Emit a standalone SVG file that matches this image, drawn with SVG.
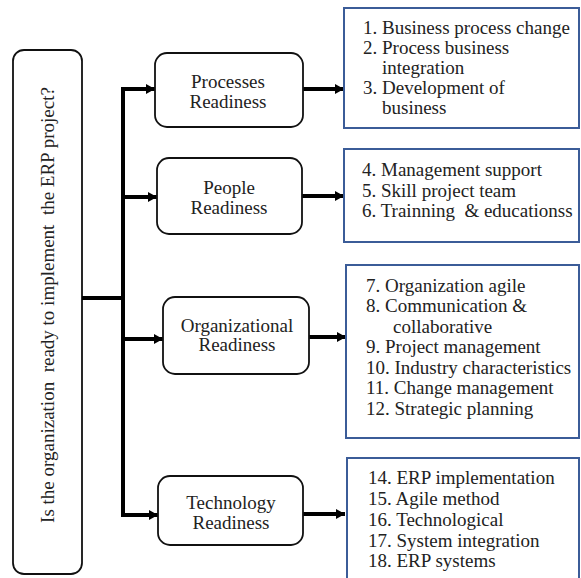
<svg xmlns="http://www.w3.org/2000/svg" width="581" height="578" viewBox="0 0 581 578">
<style>
text{font-family:"Liberation Serif","DejaVu Serif","Noto Serif",serif;font-size:19px;fill:#222}
.node{fill:#fff;stroke:#111;stroke-width:1.8}
.list{fill:#fff;stroke:#3b5c98;stroke-width:2}
.c{stroke:#000;stroke-width:4;fill:none}
.m{text-anchor:middle}
</style>
<defs>
<marker id="ah" markerUnits="userSpaceOnUse" markerWidth="10" markerHeight="12" refX="9" refY="6" orient="auto">
<path d="M0,1 L9,6 L0,11 Z" fill="#000"/>
</marker>
</defs>
<rect width="581" height="578" fill="#fff"/>
<g id="question">
<rect x="13" y="50" width="69" height="524" rx="11" class="node"/>
<text class="m" transform="translate(54,305) rotate(-90)" xml:space="preserve">Is the organization  ready to implement  the ERP project?</text>
</g>
<g id="connectors">
<path class="c" d="M82,298 H123"/>
<path class="c" d="M123,87 V517" stroke-width="5"/>
<path class="c" d="M121,89 H155" marker-end="url(#ah)"/>
<path class="c" d="M121,197 H157" marker-end="url(#ah)"/>
<path class="c" d="M121,339 H163" marker-end="url(#ah)"/>
<path class="c" d="M121,515 H158" marker-end="url(#ah)"/>
<path class="c" d="M303,89 H344" stroke-width="5" marker-end="url(#ah)"/>
<path class="c" d="M302,196 H344" stroke-width="5" marker-end="url(#ah)"/>
<path class="c" d="M309,337 H346" stroke-width="5" marker-end="url(#ah)"/>
<path class="c" d="M303,514 H345" stroke-width="5" marker-end="url(#ah)"/>
</g>
<g id="processes">
<rect x="155" y="53" width="148" height="74" rx="12" class="node"/>
<text class="m" x="228" y="88">Processes</text>
<text class="m" x="228" y="108">Readiness</text>
</g>
<g id="people">
<rect x="157" y="158" width="145" height="76" rx="12" class="node"/>
<text class="m" x="229" y="194">People</text>
<text class="m" x="229" y="214">Readiness</text>
</g>
<g id="organizational">
<rect x="163" y="297" width="146" height="77" rx="12" class="node"/>
<text class="m" x="237" y="332" font-size="15.5">Organizational</text>
<text class="m" x="237" y="351" font-size="15.5">Readiness</text>
</g>
<g id="technology">
<rect x="158" y="476" width="145" height="69" rx="12" class="node"/>
<text class="m" x="231" y="509">Technology</text>
<text class="m" x="231" y="529">Readiness</text>
</g>
<g id="list1">
<rect x="344" y="8" width="235" height="120" class="list"/>
<text x="363" y="34">1. Business process change</text>
<text x="363" y="54">2. Process business</text>
<text x="382" y="74">integration</text>
<text x="363" y="94">3. Development of</text>
<text x="382" y="114">business</text>
</g>
<g id="list2">
<rect x="344" y="149" width="235" height="93" class="list"/>
<text x="362" y="176">4. Management support</text>
<text x="362" y="197">5. Skill project team</text>
<text x="362" y="217" xml:space="preserve">6. Trainning  &amp; educationss</text>
</g>
<g id="list3">
<rect x="346" y="265" width="233" height="173" class="list"/>
<text x="366" y="292">7. Organization agile</text>
<text x="366" y="312">8. Communication &amp;</text>
<text x="393" y="333">collaborative</text>
<text x="366" y="353">9. Project management</text>
<text x="366" y="374">10. Industry characteristics</text>
<text x="366" y="394">11. Change management</text>
<text x="366" y="415">12. Strategic planning</text>
</g>
<g id="list4">
<rect x="347" y="458" width="232" height="130" class="list"/>
<text x="368" y="484">14. ERP implementation</text>
<text x="368" y="505">15. Agile method</text>
<text x="368" y="526">16. Technological</text>
<text x="368" y="547">17. System integration</text>
<text x="368" y="567">18. ERP systems</text>
</g>
</svg>
